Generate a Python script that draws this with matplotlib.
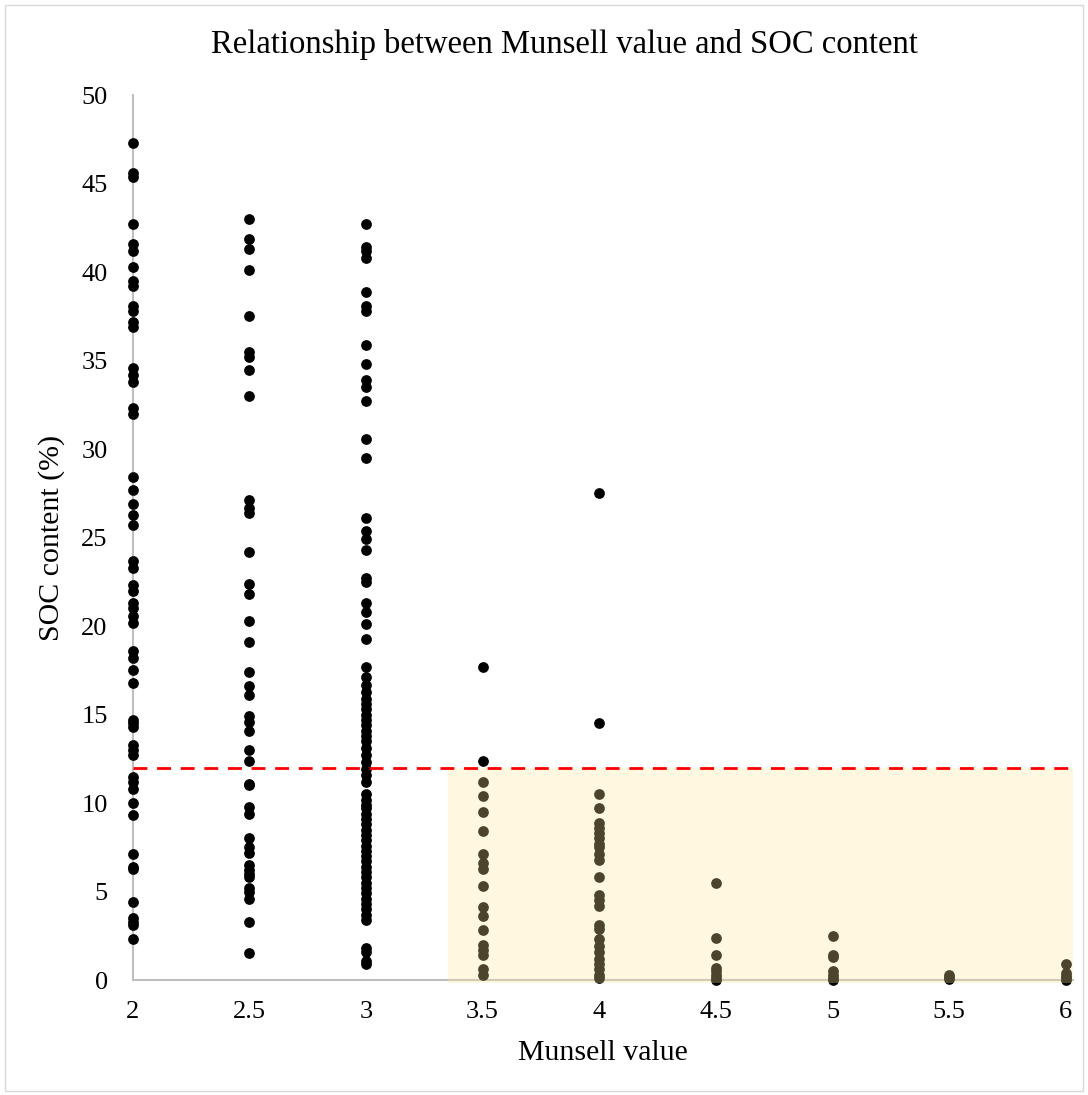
import matplotlib.pyplot as plt
from matplotlib.patches import Rectangle

plt.rcParams["font.family"] = ["Liberation Serif", "DejaVu Serif"]

# SOC content (%), one list per Munsell value
soc_2 = [47.3, 45.6, 45.4, 42.7, 41.6, 41.2, 40.3, 39.5, 39.2, 38.1, 37.8,
         37.2, 36.9, 34.6, 34.2, 33.8, 32.3, 32.0, 28.4, 27.7, 26.9, 26.3,
         25.7, 23.7, 23.3, 22.3, 22.0, 21.3, 21.0, 20.6, 20.2, 18.6, 18.2,
         17.5, 16.8, 14.7, 14.5, 14.3, 13.3, 13.0, 12.7, 11.5, 11.2, 10.8,
         10.0, 9.3, 7.1, 6.4, 6.3, 4.4, 3.5, 3.3, 3.1, 2.3]
soc_25 = [43.0, 41.9, 41.3, 40.1, 37.5, 35.5, 35.2, 34.5, 33.0, 27.1, 26.7,
          26.4, 24.2, 22.4, 21.8, 20.3, 19.1, 17.4, 16.6, 16.1, 14.9, 14.6,
          14.1, 13.0, 12.4, 11.1, 11.0, 9.8, 9.4, 8.0, 7.5, 7.2, 6.5, 6.2,
          6.0, 5.8, 5.2, 5.0, 4.6, 3.3, 1.5]
soc_3 = [42.7, 41.4, 41.2, 40.8, 38.9, 38.1, 37.8, 35.9, 34.8, 33.9, 33.5,
         32.7, 30.6, 29.5, 26.1, 25.4, 24.9, 24.3, 22.7, 22.5, 21.3, 20.8,
         20.1, 19.3, 17.7, 17.1, 16.7, 16.3, 15.9, 15.6, 15.3, 15.0, 14.7,
         14.4, 14.1, 13.8, 13.5, 13.1, 12.7, 12.3, 11.9, 11.6, 11.2, 10.5,
         10.2, 9.9, 9.7, 9.4, 9.1, 8.8, 8.5, 8.2, 7.9, 7.6, 7.3, 7.0, 6.7,
         6.4, 6.1, 5.8, 5.5, 5.2, 4.9, 4.6, 4.3, 4.0, 3.7, 3.4, 1.8, 1.6,
         1.1, 0.9]
soc_35 = [17.7, 12.4, 11.2, 10.4, 9.5, 8.4, 7.1, 6.6, 6.3, 5.3, 4.1, 3.6,
          2.8, 2.0, 1.7, 1.4, 0.6, 0.3]
soc_4 = [27.5, 14.5, 10.5, 9.7, 8.9, 8.6, 8.3, 8.0, 7.7, 7.5, 7.1, 6.8,
         5.8, 4.8, 4.5, 4.2, 3.1, 2.9, 2.3, 1.9, 1.6, 1.2, 0.9, 0.6, 0.3, 0.1]
soc_45 = [5.5, 2.4, 1.4, 0.7, 0.5, 0.3, 0.1, 0.0]
soc_5 = [2.5, 1.4, 1.3, 0.5, 0.3, 0.1, 0.0]
soc_55 = [0.3, 0.15, 0.05]
soc_6 = [0.9, 0.4, 0.25, 0.1, 0.0]

munsell = [2, 2.5, 3, 3.5, 4, 4.5, 5, 5.5, 6]
groups = [soc_2, soc_25, soc_3, soc_35, soc_4, soc_45, soc_5, soc_55, soc_6]

threshold = 12
box_left = 3.35
x_right = 6.03

fig = plt.figure(figsize=(10.88, 10.95), dpi=100)
ax = fig.add_axes([0.122, 0.105, 0.864, 0.808])

for m, vals in zip(munsell, groups):
    ax.scatter([m] * len(vals), vals, s=60, color="black", zorder=3,
               clip_on=False, linewidths=0)

# translucent box over the low-SOC / high-value corner
ax.add_patch(Rectangle((box_left, -0.15), x_right - box_left, threshold + 0.15,
                       facecolor="#FFE699", alpha=0.3, edgecolor="none",
                       zorder=4, clip_on=False))
ax.plot([2, x_right], [threshold, threshold], color="red", linestyle="--",
        linewidth=2, dashes=(5, 3.5), zorder=5)

ax.set_xlim(2, x_right)
ax.set_ylim(0, 50)
ax.set_xticks(munsell)
ax.set_xticklabels(["2", "2.5", "3", "3.5", "4", "4.5", "5", "5.5", "6"])
ax.set_yticks(range(0, 51, 5))
ax.tick_params(length=0, labelsize=19)
ax.tick_params(axis="x", pad=15)
ax.tick_params(axis="y", pad=18)
for side in ["top", "right"]:
    ax.spines[side].set_visible(False)
for side in ["left", "bottom"]:
    ax.spines[side].set_color("#BFBFBF")
    ax.spines[side].set_linewidth(1.5)
    ax.spines[side].set_zorder(2)

fig.text(0.519, 0.959, "Relationship between Munsell value and SOC content",
         fontsize=23.5, ha="center", va="center")
ax.set_xlabel("Munsell value", fontsize=21.5, labelpad=12)
ax.set_ylabel("SOC content (%)", fontsize=21.5, labelpad=12)

fig.patches.append(Rectangle((0.005, 0.004), 0.99, 0.991,
                             transform=fig.transFigure, fill=False,
                             edgecolor="#D9D9D9", linewidth=1))

fig.savefig("out.png", dpi=100)
